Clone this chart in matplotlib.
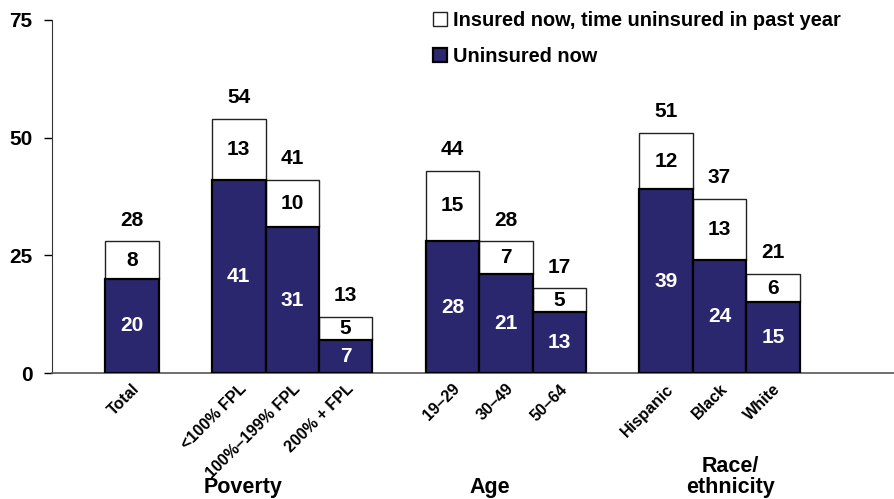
import matplotlib.pyplot as plt

plt.rcParams['font.family'] = ['Liberation Sans', 'DejaVu Sans']
plt.rcParams['font.weight'] = 'bold'

categories = ['Total', '<100% FPL', '100%\u2013199% FPL', '200% + FPL',
              '19\u201329', '30\u201349', '50\u201364',
              'Hispanic', 'Black', 'White']
positions = [0, 2, 3, 4, 6, 7, 8, 10, 11, 12]
uninsured_now = [20, 41, 31, 7, 28, 21, 13, 39, 24, 15]
insured_gap = [8, 13, 10, 5, 15, 7, 5, 12, 13, 6]
totals = [28, 54, 41, 13, 44, 28, 17, 51, 37, 21]
groups = ['Poverty', 'Age', 'Race/\nethnicity']
group_centers = [2.08, 6.7, 11.2]

navy = '#2b276f'

fig = plt.figure(figsize=(8.94, 4.99), dpi=100)
ax = fig.add_axes([0.058, 0.2525, 0.95, 0.7075])

ax.bar(positions, uninsured_now, width=1.0, color=navy,
       edgecolor='black', linewidth=1.6, label='Uninsured now', zorder=3)
ax.bar(positions, insured_gap, width=1.0, bottom=uninsured_now, color='white',
       edgecolor='#222222', linewidth=1.0,
       label='Insured now, time uninsured in past year', zorder=2)

for x, u, g, t in zip(positions, uninsured_now, insured_gap, totals):
    ax.text(x, u / 2, str(u), ha='center', va='center', color='white',
            fontsize=15, fontweight='bold', zorder=4)
    ax.text(x, u + g / 2, str(g), ha='center', va='center', color='black',
            fontsize=15, fontweight='bold', zorder=4)
    ax.text(x, u + g + 4.5, str(t), ha='center', va='center', color='black',
            fontsize=15, fontweight='bold')

ax.set_xlim(-1.5, 14.4)
ax.set_ylim(0, 75)
ax.set_yticks([0, 25, 50, 75])
ax.tick_params(axis='y', labelsize=15, length=6, width=1, pad=8)
ax.set_xticks(positions)
ax.set_xticklabels(categories, rotation=45, ha='right',
                   rotation_mode='anchor', fontsize=11.6, fontweight='bold')
ax.tick_params(axis='x', length=0, pad=6)
for lab in ax.get_yticklabels():
    lab.set_fontweight('bold')

ax.spines['top'].set_visible(False)
ax.spines['right'].set_visible(False)
ax.spines['left'].set_color('#333333')
ax.spines['bottom'].set_color('#555555')
ax.spines['bottom'].set_linewidth(1.2)

# group captions under the rotated category labels
for label, cx in zip(groups, group_centers):
    ax.annotate(label, xy=(cx, 0), xycoords=('data', 'axes fraction'),
                xytext=(0, -90), textcoords='offset points',
                ha='center', va='bottom', fontsize=15.5, fontweight='bold',
                linespacing=1.0)

handles, labels = ax.get_legend_handles_labels()
leg = ax.legend(handles[::-1], labels[::-1], loc='upper left',
                bbox_to_anchor=(0.428, 1.075), frameon=False,
                fontsize=14.4, handlelength=0.7, handleheight=0.7,
                handletextpad=0.3, labelspacing=0.85)
for t in leg.get_texts():
    t.set_fontweight('bold')

fig.savefig('out.png', dpi=100)
